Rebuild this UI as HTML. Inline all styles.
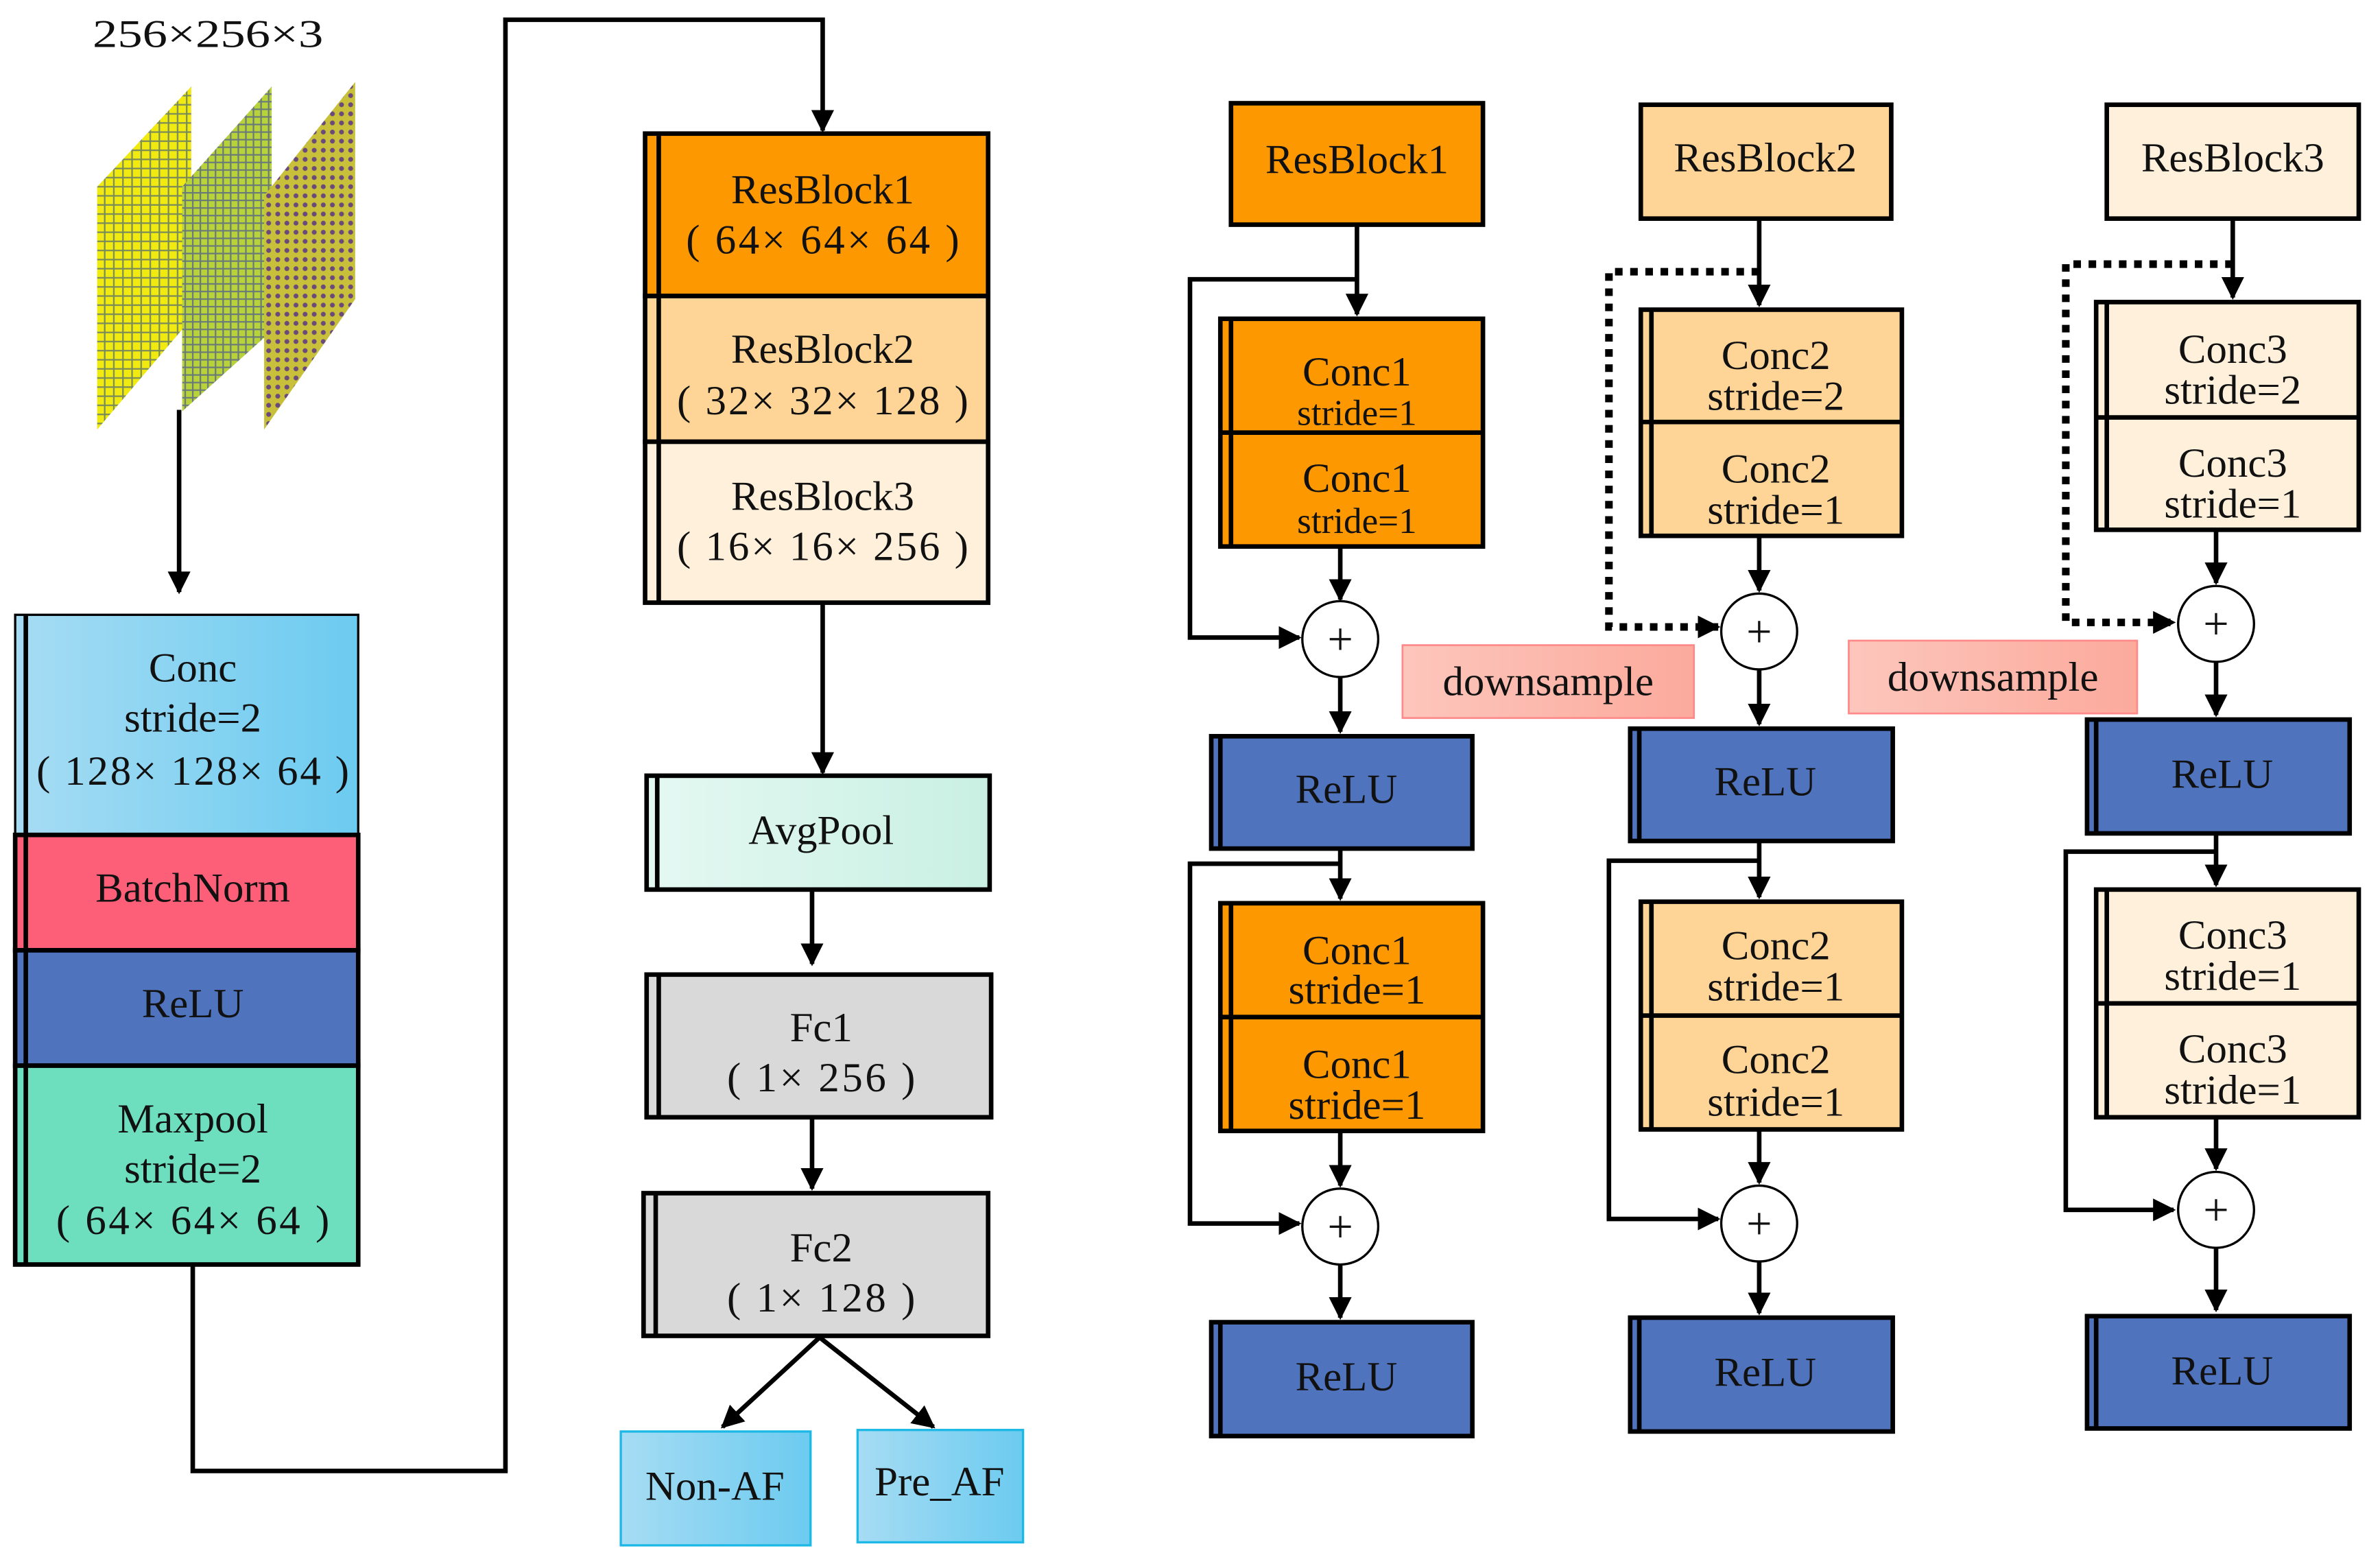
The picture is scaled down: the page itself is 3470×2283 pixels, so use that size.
<!DOCTYPE html>
<html><head><meta charset="utf-8"><style>
html,body{margin:0;padding:0;background:#fff}
svg{display:block}
text{font-family:"Liberation Serif",serif;fill:#111;text-anchor:middle}
.b{stroke:#000;stroke-width:3}
.l{stroke:#000;stroke-width:3;fill:none}
.t{font-size:27.5px}
.s{font-size:24px}
</style></head><body>
<svg width="3470" height="2283" viewBox="0 0 1568 1031.6" preserveAspectRatio="none" xmlns="http://www.w3.org/2000/svg">
<defs>
<marker id="a" viewBox="0 0 10 10" refX="9" refY="5" markerWidth="5" markerHeight="5" orient="auto" markerUnits="strokeWidth"><path d="M0,0 L10,5 L0,10 z" fill="#000"/></marker>
<marker id="a2" viewBox="0 0 10 10" refX="9" refY="5" markerWidth="3" markerHeight="3" orient="auto" markerUnits="strokeWidth"><path d="M0,0 L10,5 L0,10 z" fill="#000"/></marker>
<linearGradient id="blue" x1="0" x2="1"><stop offset="0" stop-color="#a6dcf3"/><stop offset="1" stop-color="#6ccbf0"/></linearGradient>
<linearGradient id="pink" x1="0" x2="1"><stop offset="0" stop-color="#fdc6bc"/><stop offset="1" stop-color="#fbaa9c"/></linearGradient>
<linearGradient id="mint" x1="0" x2="1"><stop offset="0" stop-color="#e4f8f2"/><stop offset="1" stop-color="#c9f0e3"/></linearGradient>
<pattern id="p1" width="6" height="6" patternUnits="userSpaceOnUse"><rect width="6" height="6" fill="#f0ea10"/><path d="M0,3 H6 M3,0 V6" stroke="#7a8a5a" stroke-width="1"/></pattern>
<pattern id="p2" width="5" height="5" patternUnits="userSpaceOnUse"><rect width="5" height="5" fill="#b8d23a"/><path d="M0,2 H5 M2,0 V5" stroke="#6a7a7a" stroke-width="1"/></pattern>
<pattern id="p3" width="6" height="6" patternUnits="userSpaceOnUse"><rect width="6" height="6" fill="#c8c03a"/><circle cx="3" cy="3" r="1.6" fill="#6a4a7a"/></pattern>
</defs>

<!-- Input -->
<text x="137" y="31" style="font-size:26px" textLength="152" lengthAdjust="spacingAndGlyphs">256×256×3</text>
<polygon points="64,123 126,57 126,210 64,283" fill="url(#p1)"/>
<polygon points="120,123 179,57 179,218 120,271" fill="url(#p2)"/>
<polygon points="174,129 234,54 234,197 174,283" fill="url(#p3)"/>
<line class="l" x1="118" y1="270" x2="118" y2="390" marker-end="url(#a)"/>

<!-- Left stack -->
<rect x="10" y="405" width="226" height="145" fill="url(#blue)" stroke="#000" stroke-width="1.5"/>
<text class="t" x="127" y="449">Conc</text>
<text class="t" x="127" y="482">stride=2</text>
<text class="t" x="127" y="517" textLength="206" lengthAdjust="spacing">( 128× 128× 64 )</text>
<rect class="b" x="10" y="550" width="226" height="76" fill="#fe5f78"/>
<text class="t" x="127" y="594">BatchNorm</text>
<rect class="b" x="10" y="626" width="226" height="76" fill="#4f73bd"/>
<text class="t" x="127" y="670">ReLU</text>
<rect class="b" x="10" y="702" width="226" height="131" fill="#6ddfbf"/>
<text class="t" x="127" y="746">Maxpool</text>
<text class="t" x="127" y="779">stride=2</text>
<text class="t" x="127" y="813" textLength="180" lengthAdjust="spacing">( 64× 64× 64 )</text>
<line class="l" x1="17" y1="405" x2="17" y2="833"/>
<polyline class="l" points="127,833 127,969 333,969 333,13 542,13 542,86" marker-end="url(#a)"/>

<!-- Middle -->
<rect class="b" x="425" y="88" width="226" height="107" fill="#fd9800"/>
<rect class="b" x="425" y="195" width="226" height="96" fill="#fed597"/>
<rect class="b" x="425" y="291" width="226" height="106" fill="#fff0db"/>
<line class="l" x1="434" y1="88" x2="434" y2="397"/>
<text class="t" x="542" y="134">ResBlock1</text>
<text class="t" x="542" y="167" textLength="180" lengthAdjust="spacing">( 64× 64× 64 )</text>
<text class="t" x="542" y="239">ResBlock2</text>
<text class="t" x="542" y="273" textLength="192" lengthAdjust="spacing">( 32× 32× 128 )</text>
<text class="t" x="542" y="336">ResBlock3</text>
<text class="t" x="542" y="369" textLength="192" lengthAdjust="spacing">( 16× 16× 256 )</text>
<line class="l" x1="542" y1="397" x2="542" y2="509" marker-end="url(#a)"/>
<rect class="b" x="426" y="511" width="226" height="75" fill="url(#mint)"/>
<line class="l" x1="433" y1="511" x2="433" y2="586"/>
<text class="t" x="541" y="556">AvgPool</text>
<line class="l" x1="535" y1="586" x2="535" y2="635" marker-end="url(#a)"/>
<rect class="b" x="426" y="642" width="227" height="94" fill="#d9d9d9"/>
<line class="l" x1="434" y1="642" x2="434" y2="736"/>
<text class="t" x="541" y="686">Fc1</text>
<text class="t" x="541" y="719" textLength="124" lengthAdjust="spacing">( 1× 256 )</text>
<line class="l" x1="535" y1="736" x2="535" y2="783" marker-end="url(#a)"/>
<rect class="b" x="424" y="786" width="227" height="94" fill="#d9d9d9"/>
<line class="l" x1="432" y1="786" x2="432" y2="880"/>
<text class="t" x="541" y="831">Fc2</text>
<text class="t" x="541" y="864" textLength="124" lengthAdjust="spacing">( 1× 128 )</text>
<line class="l" x1="540" y1="881" x2="476" y2="940" marker-end="url(#a)"/>
<line class="l" x1="540" y1="881" x2="615" y2="940" marker-end="url(#a)"/>
<rect x="409" y="943" width="125" height="75" fill="url(#blue)" stroke="#1cb8e6" stroke-width="1.5"/>
<text class="t" x="471" y="988">Non-AF</text>
<rect x="565" y="942" width="109" height="74" fill="url(#blue)" stroke="#1cb8e6" stroke-width="1.5"/>
<text class="t" x="619" y="985">Pre_AF</text>

<!-- Column 1 -->
<rect class="b" x="811" y="68" width="166" height="80" fill="#fd9800"/>
<text class="t" x="894" y="114">ResBlock1</text>
<line class="l" x1="894" y1="148" x2="894" y2="207" marker-end="url(#a)"/>
<polyline class="l" points="894,184 784,184 784,420 856,420" marker-end="url(#a)"/>
<rect class="b" x="804" y="210" width="173" height="150" fill="#fd9800"/><line class="b" x1="804" y1="285" x2="977" y2="285"/><line class="l" x1="811" y1="210" x2="811" y2="360"/>
<text class="t" x="894" y="254">Conc1</text><text class="s" x="894" y="280">stride=1</text>
<text class="t" x="894" y="324">Conc1</text><text class="s" x="894" y="351">stride=1</text>
<line class="l" x1="883" y1="360" x2="883" y2="395" marker-end="url(#a)"/>
<circle cx="883" cy="421" r="25" fill="#fff" stroke="#000" stroke-width="1.5"/><text x="883" y="431" style="font-size:30px">+</text>
<line class="l" x1="883" y1="446" x2="883" y2="482" marker-end="url(#a)"/>
<rect class="b" x="798" y="485" width="172" height="74" fill="#4f73bd"/><line class="l" x1="804" y1="485" x2="804" y2="559"/>
<text class="t" x="887" y="529">ReLU</text>
<line class="l" x1="883" y1="559" x2="883" y2="592" marker-end="url(#a)"/>
<polyline class="l" points="883,569 784,569 784,806 856,806" marker-end="url(#a)"/>
<rect class="b" x="804" y="595" width="173" height="150" fill="#fd9800"/><line class="b" x1="804" y1="670" x2="977" y2="670"/><line class="l" x1="811" y1="595" x2="811" y2="745"/>
<text class="t" x="894" y="635">Conc1</text><text class="t" x="894" y="661">stride=1</text>
<text class="t" x="894" y="710">Conc1</text><text class="t" x="894" y="737">stride=1</text>
<line class="l" x1="883" y1="745" x2="883" y2="781" marker-end="url(#a)"/>
<circle cx="883" cy="808" r="25" fill="#fff" stroke="#000" stroke-width="1.5"/><text x="883" y="818" style="font-size:30px">+</text>
<line class="l" x1="883" y1="833" x2="883" y2="868" marker-end="url(#a)"/>
<rect class="b" x="798" y="871" width="172" height="75" fill="#4f73bd"/><line class="l" x1="804" y1="871" x2="804" y2="946"/>
<text class="t" x="887" y="916">ReLU</text>

<!-- downsample -->
<rect x="924" y="425" width="192" height="48" fill="url(#pink)" stroke="#f88" stroke-width="1.2"/>
<text class="t" x="1020" y="458">downsample</text>
<rect x="1218" y="422" width="190" height="48" fill="url(#pink)" stroke="#f88" stroke-width="1.2"/>
<text class="t" x="1313" y="455">downsample</text>

<!-- Column 2 -->
<rect class="b" x="1081" y="69" width="165" height="75" fill="#fed597"/>
<text class="t" x="1163" y="113">ResBlock2</text>
<line class="l" x1="1159" y1="144" x2="1159" y2="201" marker-end="url(#a)"/>
<polyline class="l" points="1159,179 1060,179 1060,413 1132,413" stroke-dasharray="5,5" marker-end="url(#a2)" style="stroke-width:5"/>
<rect class="b" x="1081" y="204" width="172" height="149" fill="#fed597"/><line class="b" x1="1081" y1="278" x2="1253" y2="278"/><line class="l" x1="1088" y1="204" x2="1088" y2="353"/>
<text class="t" x="1170" y="243">Conc2</text><text class="t" x="1170" y="270">stride=2</text>
<text class="t" x="1170" y="318">Conc2</text><text class="t" x="1170" y="345">stride=1</text>
<line class="l" x1="1159" y1="353" x2="1159" y2="389" marker-end="url(#a)"/>
<circle cx="1159" cy="416" r="25" fill="#fff" stroke="#000" stroke-width="1.5"/><text x="1159" y="426" style="font-size:30px">+</text>
<line class="l" x1="1159" y1="441" x2="1159" y2="477" marker-end="url(#a)"/>
<rect class="b" x="1074" y="480" width="173" height="74" fill="#4f73bd"/><line class="l" x1="1080" y1="480" x2="1080" y2="554"/>
<text class="t" x="1163" y="524">ReLU</text>
<line class="l" x1="1159" y1="554" x2="1159" y2="591" marker-end="url(#a)"/>
<polyline class="l" points="1159,567 1060,567 1060,803 1132,803" marker-end="url(#a)"/>
<rect class="b" x="1081" y="594" width="172" height="150" fill="#fed597"/><line class="b" x1="1081" y1="669" x2="1253" y2="669"/><line class="l" x1="1088" y1="594" x2="1088" y2="744"/>
<text class="t" x="1170" y="632">Conc2</text><text class="t" x="1170" y="659">stride=1</text>
<text class="t" x="1170" y="707">Conc2</text><text class="t" x="1170" y="735">stride=1</text>
<line class="l" x1="1159" y1="744" x2="1159" y2="779" marker-end="url(#a)"/>
<circle cx="1159" cy="806" r="25" fill="#fff" stroke="#000" stroke-width="1.5"/><text x="1159" y="816" style="font-size:30px">+</text>
<line class="l" x1="1159" y1="831" x2="1159" y2="865" marker-end="url(#a)"/>
<rect class="b" x="1074" y="868" width="173" height="75" fill="#4f73bd"/><line class="l" x1="1080" y1="868" x2="1080" y2="943"/>
<text class="t" x="1163" y="913">ReLU</text>

<!-- Column 3 -->
<rect class="b" x="1388" y="69" width="166" height="75" fill="#fff0db"/>
<text class="t" x="1471" y="113">ResBlock3</text>
<line class="l" x1="1471" y1="144" x2="1471" y2="196" marker-end="url(#a)"/>
<polyline class="l" points="1471,174 1361,174 1361,410 1432,410" stroke-dasharray="5,5" marker-end="url(#a2)" style="stroke-width:5"/>
<rect class="b" x="1381" y="199" width="173" height="150" fill="#fff0db"/><line class="b" x1="1381" y1="275" x2="1554" y2="275"/><line class="l" x1="1388" y1="199" x2="1388" y2="349"/>
<text class="t" x="1471" y="239">Conc3</text><text class="t" x="1471" y="266">stride=2</text>
<text class="t" x="1471" y="314">Conc3</text><text class="t" x="1471" y="341">stride=1</text>
<line class="l" x1="1460" y1="349" x2="1460" y2="384" marker-end="url(#a)"/>
<circle cx="1460" cy="411" r="25" fill="#fff" stroke="#000" stroke-width="1.5"/><text x="1460" y="421" style="font-size:30px">+</text>
<line class="l" x1="1460" y1="436" x2="1460" y2="471" marker-end="url(#a)"/>
<rect class="b" x="1375" y="474" width="173" height="75" fill="#4f73bd"/><line class="l" x1="1381" y1="474" x2="1381" y2="549"/>
<text class="t" x="1464" y="519">ReLU</text>
<line class="l" x1="1460" y1="549" x2="1460" y2="583" marker-end="url(#a)"/>
<polyline class="l" points="1460,561 1361,561 1361,797 1432,797" marker-end="url(#a)"/>
<rect class="b" x="1381" y="586" width="173" height="150" fill="#fff0db"/><line class="b" x1="1381" y1="661" x2="1554" y2="661"/><line class="l" x1="1388" y1="586" x2="1388" y2="736"/>
<text class="t" x="1471" y="625">Conc3</text><text class="t" x="1471" y="652">stride=1</text>
<text class="t" x="1471" y="700">Conc3</text><text class="t" x="1471" y="727">stride=1</text>
<line class="l" x1="1460" y1="736" x2="1460" y2="770" marker-end="url(#a)"/>
<circle cx="1460" cy="797" r="25" fill="#fff" stroke="#000" stroke-width="1.5"/><text x="1460" y="807" style="font-size:30px">+</text>
<line class="l" x1="1460" y1="822" x2="1460" y2="863" marker-end="url(#a)"/>
<rect class="b" x="1375" y="867" width="173" height="74" fill="#4f73bd"/><line class="l" x1="1381" y1="867" x2="1381" y2="941"/>
<text class="t" x="1464" y="912">ReLU</text>
</svg>
</body></html>
